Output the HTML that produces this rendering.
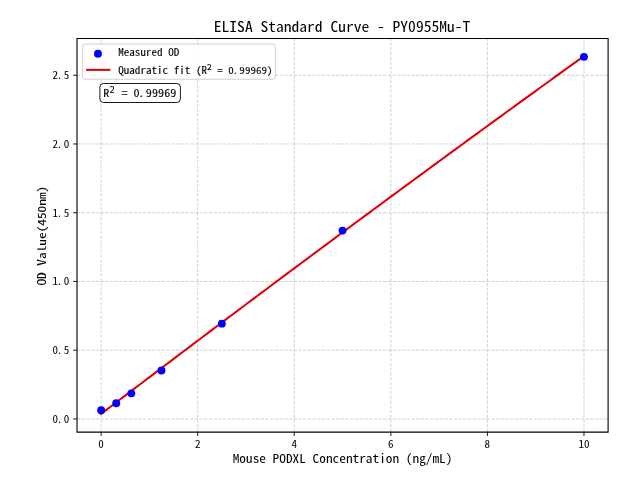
<!DOCTYPE html><html><head><meta charset="utf-8"><style>html,body{margin:0;padding:0;background:#fff;width:640px;height:480px;overflow:hidden}svg{display:block}text{font-family:'Noto Sans Mono CJK SC', 'WenQuanYi Zen Hei Mono', 'IPAGothic', monospace;fill:#000;stroke:#000;stroke-width:0.00px;white-space:pre}</style></head><body>
<svg width="640" height="480" viewBox="0 0 640 480">
<rect width="640" height="480" fill="#fff"/>
<g stroke="#b0b0b0" stroke-opacity="0.66" stroke-width="0.89" stroke-dasharray="3.29 1.42"><line x1="101.14" y1="432.10" x2="101.14" y2="38.50"/><line x1="197.70" y1="432.10" x2="197.70" y2="38.50"/><line x1="294.27" y1="432.10" x2="294.27" y2="38.50"/><line x1="390.83" y1="432.10" x2="390.83" y2="38.50"/><line x1="487.40" y1="432.10" x2="487.40" y2="38.50"/><line x1="583.96" y1="432.10" x2="583.96" y2="38.50"/><line x1="77.00" y1="418.92" x2="608.10" y2="418.92"/><line x1="77.00" y1="350.18" x2="608.10" y2="350.18"/><line x1="77.00" y1="281.45" x2="608.10" y2="281.45"/><line x1="77.00" y1="212.72" x2="608.10" y2="212.72"/><line x1="77.00" y1="143.98" x2="608.10" y2="143.98"/><line x1="77.00" y1="75.25" x2="608.10" y2="75.25"/></g>
<path d="M101.14 413.91 L106.02 410.19 L110.89 406.48 L115.77 402.76 L120.65 399.05 L125.53 395.34 L130.40 391.64 L135.28 387.93 L140.16 384.23 L145.03 380.53 L149.91 376.83 L154.79 373.13 L159.66 369.44 L164.54 365.75 L169.42 362.06 L174.30 358.37 L179.17 354.68 L184.05 351.00 L188.93 347.32 L193.80 343.64 L198.68 339.96 L203.56 336.29 L208.43 332.61 L213.31 328.94 L218.19 325.27 L223.06 321.60 L227.94 317.94 L232.82 314.28 L237.70 310.62 L242.57 306.96 L247.45 303.30 L252.33 299.65 L257.20 296.00 L262.08 292.35 L266.96 288.70 L271.83 285.05 L276.71 281.41 L281.59 277.77 L286.47 274.13 L291.34 270.49 L296.22 266.85 L301.10 263.22 L305.97 259.59 L310.85 255.96 L315.73 252.33 L320.60 248.71 L325.48 245.09 L330.36 241.46 L335.23 237.85 L340.11 234.23 L344.99 230.62 L349.87 227.00 L354.74 223.39 L359.62 219.79 L364.50 216.18 L369.37 212.58 L374.25 208.97 L379.13 205.37 L384.00 201.78 L388.88 198.18 L393.76 194.59 L398.63 191.00 L403.51 187.41 L408.39 183.82 L413.27 180.24 L418.14 176.65 L423.02 173.07 L427.90 169.49 L432.77 165.92 L437.65 162.34 L442.53 158.77 L447.40 155.20 L452.28 151.63 L457.16 148.07 L462.04 144.50 L466.91 140.94 L471.79 137.38 L476.67 133.82 L481.54 130.27 L486.42 126.72 L491.30 123.16 L496.17 119.62 L501.05 116.07 L505.93 112.52 L510.80 108.98 L515.68 105.44 L520.56 101.90 L525.44 98.36 L530.31 94.83 L535.19 91.30 L540.07 87.77 L544.94 84.24 L549.82 80.71 L554.70 77.19 L559.57 73.67 L564.45 70.15 L569.33 66.63 L574.21 63.12 L579.08 59.60 L583.96 56.09" fill="none" stroke="#e20006" stroke-width="2.05" stroke-linecap="square"/>
<circle cx="101.14" cy="410.26" r="3.95" fill="#0000ff"/>
<circle cx="116.23" cy="403.25" r="3.95" fill="#0000ff"/>
<circle cx="131.32" cy="393.35" r="3.95" fill="#0000ff"/>
<circle cx="161.49" cy="370.53" r="3.95" fill="#0000ff"/>
<circle cx="221.85" cy="323.65" r="3.95" fill="#0000ff"/>
<circle cx="342.55" cy="230.59" r="3.95" fill="#0000ff"/>
<circle cx="583.96" cy="56.83" r="3.95" fill="#0000ff"/>
<g stroke="#000" stroke-width="1.1" fill="none"><path d="M77.00 38.50 L608.10 38.50 L608.10 432.10 L77.00 432.10 Z"/></g>
<g stroke="#000" stroke-width="0.9"><line x1="101.14" y1="432.10" x2="101.14" y2="435.99"/><line x1="197.70" y1="432.10" x2="197.70" y2="435.99"/><line x1="294.27" y1="432.10" x2="294.27" y2="435.99"/><line x1="390.83" y1="432.10" x2="390.83" y2="435.99"/><line x1="487.40" y1="432.10" x2="487.40" y2="435.99"/><line x1="583.96" y1="432.10" x2="583.96" y2="435.99"/><line x1="77.00" y1="418.92" x2="73.11" y2="418.92"/><line x1="77.00" y1="350.18" x2="73.11" y2="350.18"/><line x1="77.00" y1="281.45" x2="73.11" y2="281.45"/><line x1="77.00" y1="212.72" x2="73.11" y2="212.72"/><line x1="77.00" y1="143.98" x2="73.11" y2="143.98"/><line x1="77.00" y1="75.25" x2="73.11" y2="75.25"/></g>
<text transform="translate(101.14 447.60) scale(1 0.930)" font-size="11.11" text-anchor="middle">0</text>
<text transform="translate(197.70 447.60) scale(1 0.930)" font-size="11.11" text-anchor="middle">2</text>
<text transform="translate(294.27 447.60) scale(1 0.930)" font-size="11.11" text-anchor="middle">4</text>
<text transform="translate(390.83 447.60) scale(1 0.930)" font-size="11.11" text-anchor="middle">6</text>
<text transform="translate(487.40 447.60) scale(1 0.930)" font-size="11.11" text-anchor="middle">8</text>
<text transform="translate(583.96 447.60) scale(1 0.930)" font-size="11.11" text-anchor="middle">10</text>
<text transform="translate(69.20 422.92) scale(1 0.930)" font-size="11.11" text-anchor="end">0<tspan dx="-1.4">.</tspan><tspan dx="1.4">0</tspan></text>
<text transform="translate(69.20 354.18) scale(1 0.930)" font-size="11.11" text-anchor="end">0<tspan dx="-1.4">.</tspan><tspan dx="1.4">5</tspan></text>
<text transform="translate(69.20 285.45) scale(1 0.930)" font-size="11.11" text-anchor="end">1<tspan dx="-1.4">.</tspan><tspan dx="1.4">0</tspan></text>
<text transform="translate(69.20 216.72) scale(1 0.930)" font-size="11.11" text-anchor="end">1<tspan dx="-1.4">.</tspan><tspan dx="1.4">5</tspan></text>
<text transform="translate(69.20 147.98) scale(1 0.930)" font-size="11.11" text-anchor="end">2<tspan dx="-1.4">.</tspan><tspan dx="1.4">0</tspan></text>
<text transform="translate(69.20 79.25) scale(1 0.930)" font-size="11.11" text-anchor="end">2<tspan dx="-1.4">.</tspan><tspan dx="1.4">5</tspan></text>
<text transform="translate(342.05 31.50) scale(1 0.945)" font-size="15.56" text-anchor="middle">ELISA Standard Curve - PY0955Mu-T</text>
<text transform="translate(342.55 463.35) scale(1 0.910)" font-size="13.33" text-anchor="middle">Mouse PODXL Concentration (ng/mL)</text>
<text transform="translate(45.95 235.70) rotate(-90) scale(1 0.830)" font-size="13.33" text-anchor="middle" style="stroke-width:0.10px">OD Value(450nm)</text>
<rect x="82.63" y="44.06" width="192.7" height="35.2" rx="2.5" ry="2.5" fill="#fff" fill-opacity="0.9" stroke="#cccccc" stroke-width="0.9"/>
<circle cx="97.95" cy="53.75" r="3.95" fill="#0000ff"/>
<line x1="87.07" y1="69.85" x2="109.3" y2="69.85" stroke="#e20006" stroke-width="2.05" stroke-linecap="square"/>
<text transform="translate(118.20 55.90) scale(1 0.880)" font-size="11.11" style="stroke-width:0.10px">Measured OD</text>
<text transform="translate(118.20 73.65) scale(1 0.880)" font-size="11.11" style="stroke-width:0.12px">Quadratic fit (R</text>
<text x="207.0" y="69.8" font-size="7.78" style="font-family:'DejaVu Sans',sans-serif;stroke-width:0.1px">2</text>
<text transform="translate(211.60 73.65) scale(1 0.880)" font-size="11.11" style="stroke-width:0.08px"> = 0<tspan dx="-1.3">.</tspan><tspan dx="1.3">99969)</tspan></text>
<rect x="99.9" y="83.5" width="80.5" height="19" rx="3.6" ry="3.6" fill="#fff" stroke="#000" stroke-width="0.9"/>
<text transform="translate(103.20 97.00) scale(1 0.880)" font-size="12.22" style="stroke-width:0.10px">R</text>
<text x="109.6" y="92.8" font-size="8.56" style="font-family:'DejaVu Sans',sans-serif;stroke-width:0.05px">2</text>
<text transform="translate(115.30 97.00) scale(1 0.880)" font-size="12.22" style="stroke-width:0.10px"> = 0<tspan dx="-1.4">.</tspan><tspan dx="1.4">99969</tspan></text>
</svg></body></html>
